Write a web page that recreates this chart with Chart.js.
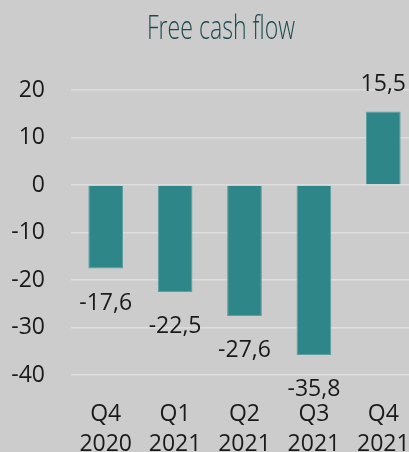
<!DOCTYPE html>
<html>
<head>
<meta charset="utf-8">
<script src="https://cdn.jsdelivr.net/npm/chart.js@4/dist/chart.umd.min.js"></script>
<style>
  html, body { margin: 0; padding: 0; background: #cccccc; overflow: hidden; }
  #wrap { position: relative; width: 418px; height: 457px; }
  #title {
    position: absolute; left: 221px; top: 4px;
    transform: translateX(-50%) scaleX(0.7);
    font-family: "Open Sans", sans-serif; font-weight: 300; font-size: 33px;
    color: #1d4a50; white-space: nowrap;
  }
</style>
</head>
<body>
<div id="wrap">
  <div id="title">Free cash flow</div>
  <canvas id="fcfChart" width="418" height="457"></canvas>
</div>
<script>
const quarters = [["Q4", "2020"], ["Q1", "2021"], ["Q2", "2021"], ["Q3", "2021"], ["Q4", "2021"]];
const cashFlow = [-17.6, -22.5, -27.6, -35.8, 15.5];
const yTicks = [20, 10, 0, -10, -20, -30, -40];

const fmt = (v) => v.toFixed(1).replace(".", ",");

const valueLabels = {
  id: "valueLabels",
  afterDatasetsDraw(chart) {
    const ctx = chart.ctx;
    const meta = chart.getDatasetMeta(0);
    ctx.save();
    ctx.font = "23px 'Open Sans'";
    ctx.fillStyle = "#1a1a1a";
    ctx.textAlign = "center";
    meta.data.forEach((bar, i) => {
      const v = cashFlow[i];
      if (v >= 0) {
        ctx.textBaseline = "bottom";
        ctx.fillText(fmt(v), bar.x, bar.y - 15);
      } else {
        ctx.textBaseline = "top";
        ctx.fillText(fmt(v), bar.x, bar.y + 23);
      }
    });
    ctx.restore();
  },
};

let ctx = document.getElementById("fcfChart").getContext("2d");

window.fcfChart = new Chart(ctx, {
  type: "bar",
  data: {
    labels: quarters,
    datasets: [
      {
        data: cashFlow,
        backgroundColor: "#2e8689",
        borderColor: "#5a9e9f",
        borderWidth: 1,
        barPercentage: 0.5,
        categoryPercentage: 1,
      },
    ],
  },
  plugins: [valueLabels],
  options: {
    responsive: false,
    animation: false,
    layout: {
      padding: { top: 90, left: 10, right: 0, bottom: 0 },
    },
    scales: {
      y: {
        min: -40,
        max: 20,
        afterBuildTicks: (axis) => {
          axis.ticks = yTicks.map((v) => ({ value: v }));
        },
        afterFit: (axis) => {
          axis.width = 61;
        },
        grid: {
          color: "#dedede",
          lineWidth: 1.5,
          drawTicks: false,
        },
        border: { display: false },
        ticks: {
          color: "#1a1a1a",
          padding: 26,
          font: { family: "'Open Sans'", size: 23 },
        },
      },
      x: {
        afterFit: (axis) => {
          axis.height = 82;
          axis.paddingLeft = 0;
          axis.paddingRight = 0;
        },
        grid: { display: false },
        border: { display: false },
        ticks: {
          color: "#1a1a1a",
          padding: 16,
          maxRotation: 0,
          autoSkip: false,
          font: { family: "'Open Sans'", size: 23, lineHeight: 1.33 },
        },
      },
    },
    plugins: {
      legend: { display: false },
      tooltip: { enabled: false },
      title: { display: false },
    },
  },
});
</script>
</body>
</html>
